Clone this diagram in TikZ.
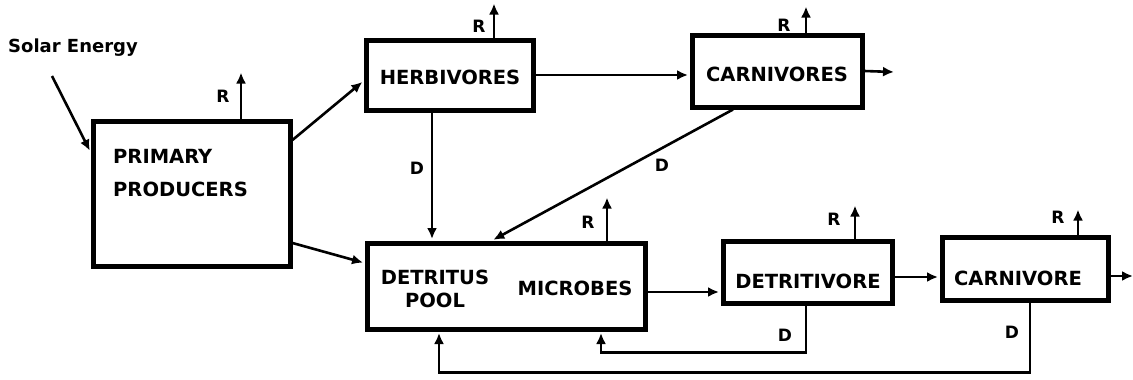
\documentclass[tikz,border=0pt]{standalone}
\usepackage{fontspec}
\setmainfont{DejaVu Sans}
\usetikzlibrary{arrows.meta,calc}
\begin{document}
\begin{tikzpicture}[x=1pt,y=-1pt,
  box/.style={draw,line width=5pt,inner sep=0pt},
  lbl/.style={inner sep=0pt,font=\bfseries\fontsize{19.5}{23}\selectfont},
  small/.style={inner sep=0pt,font=\bfseries\fontsize{17}{20}\selectfont},
  flow/.style={line width=2.6pt,-{Latex[length=11pt,width=10pt]}},
  into/.style={flow,shorten >=1.5pt}]
\useasboundingbox (0,0) rectangle (1133,380);
% boxes
\node[box,minimum width=197pt,minimum height=145pt] (prod) at (191.5,193.5) {};
\node[box,minimum width=167pt,minimum height=70pt] (herb) at (449.5,75) {};
\node[box,minimum width=170pt,minimum height=72pt] (carns) at (777,71) {};
\node[box,minimum width=278pt,minimum height=86pt] (det) at (506,286) {};
\node[box,minimum width=169pt,minimum height=62pt] (detv) at (807.5,272) {};
\node[box,minimum width=166pt,minimum height=63pt] (carn) at (1025,268.5) {};
% texts
\node[lbl,anchor=west,align=left,font=\bfseries\fontsize{19.5}{33}\selectfont] (prodt) at (113,173.5) {PRIMARY\\PRODUCERS};
\node[lbl] (herbt) at (450,77) {HERBIVORES};
\node[lbl] (carnst) at (777,74) {CARNIVORES};
\node[lbl,align=center] (dett) at (435,288.5) {DETRITUS\\POOL};
\node[lbl] (mict) at (575,288) {MICROBES};
\node[lbl] (detvt) at (808,281) {DETRITIVORE};
\node[lbl] (carnt) at (1018,278) {CARNIVORE};
\node[inner sep=0pt,anchor=base west,font=\bfseries\fontsize{18}{20}\selectfont] (solar) at (8,52) {Solar Energy};
% free coordinates
\coordinate (sun) at (52,76);
\coordinate (cout) at (894,72);
\coordinate (carnout) at (1133,276);
% solar input
\draw[into] (sun) -- ([yshift=41.5pt]prod.west);
% producers
\draw[into] ([yshift=53.5pt]prod.east) -- ([yshift=-6pt]herb.west);
\draw[into] ([yshift=-49.5pt]prod.east) -- ([yshift=23pt]det.west);
% herbivores -> carnivores
\draw[into] (herb.east) -- (herb.east -| carns.west);
\draw[flow] (carns.east) -- (cout);
% D flows to detritus
\draw[into] ([xshift=-17.5pt]herb.south) -- ([xshift=-17.5pt]herb.south |- det.north);
\draw[into] ([xshift=-44pt]carns.south) -- ([xshift=-14pt]det.north);
% detritus chain
\draw[into] ([yshift=-6pt]det.east) -- ([yshift=-6pt]det.east -| detv.west);
\draw[into] ([yshift=-5pt]detv.east) -- ([yshift=-5pt]detv.east -| carn.west);
\draw[flow] ([yshift=-7.5pt]carn.east) -- (carnout);
% returns
\draw[into] ([xshift=-1.5pt]detv.south) -- ++(0,47) -| ([xshift=95pt]det.south);
\draw[into] ([xshift=5pt]carn.south) -- ++(0,70) -| ([xshift=-67pt]det.south);
% respiration
\draw[flow] ([xshift=49.5pt]prod.north) -- ++(0,-46);
\draw[flow] ([xshift=44.5pt]herb.north) -- ++(0,-34);
\draw[flow] ([xshift=29pt]carns.north) -- ++(0,-26);
\draw[flow] ([xshift=101pt]det.north) -- ++(0,-43);
\draw[flow] ([xshift=47.5pt]detv.north) -- ++(0,-33);
\draw[flow] ([xshift=53pt]carn.north) -- ++(0,-25);
% R labels
\node[small] (r1) at (223,96) {R};
\node[small] (r2) at (479,26) {R};
\node[small] (r3) at (784,25) {R};
\node[small] (r4) at (588,222) {R};
\node[small] (r5) at (834,219) {R};
\node[small] (r6) at (1058,217) {R};
% D labels
\node[small] (d1) at (417,168) {D};
\node[small] (d2) at (662,165) {D};
\node[small] (d3) at (785,335) {D};
\node[small] (d4) at (1012,332) {D};
\end{tikzpicture}
\end{document}
